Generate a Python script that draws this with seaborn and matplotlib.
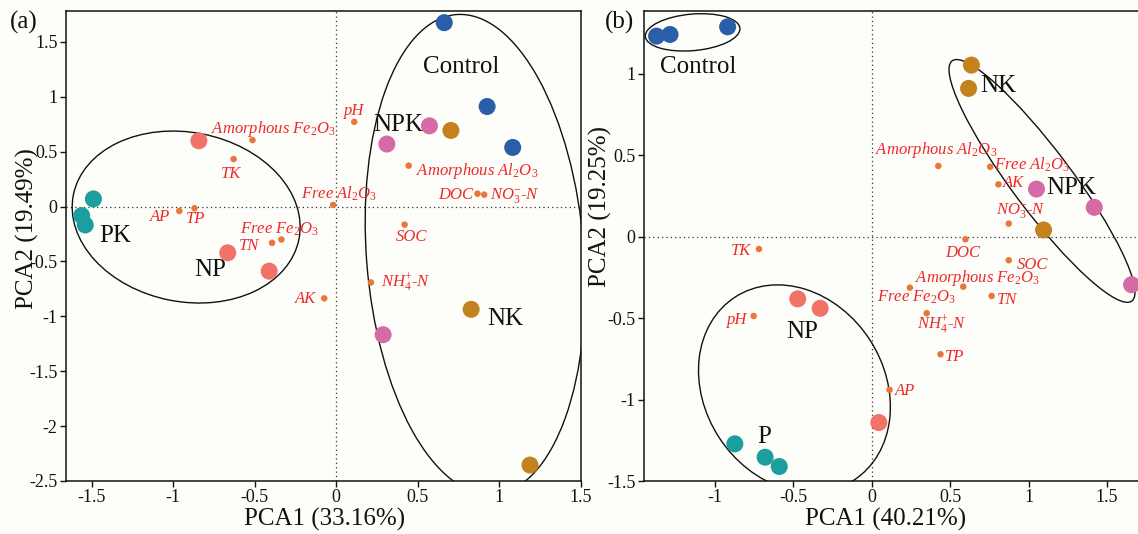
import numpy as np
import pandas as pd
import matplotlib
matplotlib.use("Agg")
import matplotlib.pyplot as plt
import seaborn as sns
from matplotlib.patches import Ellipse
from matplotlib.transforms import Affine2D
from matplotlib.ticker import FixedLocator, FuncFormatter

# ---------------- data: panel (a) ----------------
groups_a = ["Control"] * 3 + ["NPK"] * 3 + ["NK"] * 3 + ["NP"] * 3 + ["PK"] * 3
pc1_a = [0.663, 0.926, 1.083, 0.572, 0.311, 0.288, 0.704, 0.828, 1.189,
         -0.842, -0.665, -0.411, -1.489, -1.561, -1.539]
pc2_a = [1.676, 0.912, 0.539, 0.736, 0.570, -1.167, 0.694, -0.936, -2.355,
         0.600, -0.421, -0.588, 0.070, -0.082, -0.167]

vars_a = ["pH", "Amorphous Fe2O3", "TK", "Free Al2O3", "Amorphous Al2O3", "DOC",
          "NO3-N", "AP", "TP", "Free Fe2O3", "TN", "SOC", "NH4-N", "AK"]
v1_a = [0.111, -0.513, -0.629, -0.018, 0.445, 0.867, 0.908, -0.962, -0.869,
        -0.336, -0.393, 0.420, 0.213, -0.073]
v2_a = [0.773, 0.606, 0.433, 0.015, 0.373, 0.118, 0.109, -0.039, -0.015,
        -0.300, -0.330, -0.164, -0.691, -0.836]

# ---------------- data: panel (b) ----------------
groups_b = ["Control"] * 3 + ["NK"] * 3 + ["NPK"] * 3 + ["NP"] * 3 + ["P"] * 3
pc1_b = [-1.372, -1.286, -0.919, 0.635, 0.617, 1.095, 1.050, 1.418, 1.656,
         -0.472, -0.329, 0.045, -0.873, -0.680, -0.590]
pc2_b = [1.231, 1.241, 1.288, 1.053, 0.910, 0.041, 0.292, 0.180, -0.295,
         -0.382, -0.440, -1.141, -1.272, -1.354, -1.411]

vars_b = ["Amorphous Al2O3", "Free Al2O3", "AK", "NO3-N", "DOC", "TK", "SOC",
          "Amorphous Fe2O3", "Free Fe2O3", "TN", "NH4-N", "pH", "TP", "AP"]
v1_b = [0.424, 0.755, 0.807, 0.873, 0.597, -0.719, 0.873, 0.583, 0.243,
        0.764, 0.350, -0.753, 0.438, 0.113]
v2_b = [0.434, 0.429, 0.321, 0.080, -0.016, -0.076, -0.145, -0.307, -0.313,
        -0.364, -0.470, -0.487, -0.722, -0.940]

xlabel_a, ylabel_a = "PCA1 (33.16%)", "PCA2 (19.49%)"
xlabel_b, ylabel_b = "PCA1 (40.21%)", "PCA2 (19.25%)"

# ---------------- styles ----------------
palette = {"Control": "#2b5ea8", "NPK": "#d66aa6", "NK": "#c4821e",
           "NP": "#f07268", "PK": "#1a9e9e", "P": "#1a9e9e"}
dot_color = "#e8783a"
lab_color = "#ee2a2a"
bg = "#fdfdf9"

pretty = {
    "Amorphous Fe2O3": r"Amorphous Fe$_2$O$_3$",
    "Amorphous Al2O3": r"Amorphous Al$_2$O$_3$",
    "Free Al2O3": r"Free Al$_2$O$_3$",
    "Free Fe2O3": r"Free Fe$_2$O$_3$",
    "NO3-N": r"NO$_3^{-}$-N",
    "NH4-N": r"NH$_4^{+}$-N",
}

# label placement (offset points, ha)
lab_a = {"pH": (0, 8, "center"), "Amorphous Fe2O3": (-30, 8, "left"),
         "TK": (-1.5, -10.5, "center"), "Free Al2O3": (4, 8, "center"),
         "Amorphous Al2O3": (5.5, -3.6, "left"), "DOC": (-3, -1, "right"),
         "NO3-N": (4.5, -0.5, "left"), "AP": (-6.5, -4.3, "right"),
         "TP": (1, -7.5, "center"), "Free Fe2O3": (-1, 7.5, "center"),
         "TN": (-9, -2.4, "right"), "SOC": (5, -8.8, "center"),
         "NH4-N": (7.5, 0, "left"), "AK": (-5.5, -0.7, "right")}
lab_b = {"Amorphous Al2O3": (-1.8, 11.5, "center"), "Free Al2O3": (3, 1.2, "left"),
         "AK": (3, 1.2, "left"), "NO3-N": (9, 9.6, "center"),
         "DOC": (-2, -10, "center"), "TK": (-5.5, -1.2, "right"),
         "SOC": (5.5, -3.1, "left"), "Amorphous Fe2O3": (10, 6, "center"),
         "Free Fe2O3": (4.8, -7, "center"), "TN": (3.6, -2.9, "left"),
         "NH4-N": (11, -8.4, "center"), "pH": (-4.6, -2.9, "right"),
         "TP": (3, -2.2, "left"), "AP": (3.8, -0.7, "left")}

grp_pos_a = {"Control": (0.765, 1.276), "NPK": (0.379, 0.745), "PK": (-1.357, -0.27),
             "NP": (-0.77, -0.573), "NK": (1.037, -1.027)}
grp_pos_b = {"Control": (-1.105, 1.043), "NK": (0.805, 0.924), "NPK": (1.27, 0.297),
             "NP": (-0.442, -0.583), "P": (-0.685, -1.227)}

# ellipses: centre, width, height (x-data units), visual angle
ell_a = [((-0.92, -0.095), 1.410, 1.039, -11), ((0.853, -0.436), 1.334, 2.952, 4.5)]
ell_b = [((-1.142, 1.254), 0.605, 0.233, 5), ((1.085, 0.342), 1.912, 0.382, -53.2),
         ((-0.493, -0.933), 1.391, 1.145, 123)]

sns.set_theme(style="ticks")
plt.rcParams["font.family"] = ["Liberation Serif", "DejaVu Serif"]
plt.rcParams["mathtext.fontset"] = "custom"
plt.rcParams["mathtext.rm"] = "Liberation Serif"
plt.rcParams["mathtext.it"] = "Liberation Serif:italic"
plt.rcParams["mathtext.default"] = "it"

W, H = 11.38, 5.34
fig = plt.figure(figsize=(W, H), dpi=100, facecolor=bg)
axA = fig.add_axes([66 / 1138, 53 / 534, (580.7 - 66) / 1138, 470.3 / 534])
axB = fig.add_axes([644 / 1138, 53 / 534, (1138 - 644) / 1138, 470.3 / 534])

fmt = FuncFormatter(lambda v, p: f"{v:g}")


def panel(ax, groups, x, y, vnames, vx, vy, labpos, gpos, ells, xlim, ylim,
          xt, yt, xl, yl, ylc, xlc, right_spine=True):
    ax.set_facecolor(bg)
    ax.set_xlim(*xlim)
    ax.set_ylim(*ylim)
    ax.axhline(0, ls=(0, (1, 2.5)), color="#333333", lw=0.9, zorder=1)
    ax.axvline(0, ls=(0, (1, 2.5)), color="#333333", lw=0.9, zorder=1)
    df = pd.DataFrame({"PC1": x, "PC2": y, "group": groups})
    sns.scatterplot(data=df, x="PC1", y="PC2", hue="group", palette=palette,
                    s=150, edgecolor="none", legend=False, ax=ax, zorder=3)
    dv = pd.DataFrame({"x": vx, "y": vy, "var": vnames})
    sns.scatterplot(data=dv, x="x", y="y", color=dot_color, s=22,
                    edgecolor="none", legend=False, ax=ax, zorder=4)
    for n, a, b in zip(vnames, vx, vy):
        dx, dy, ha = labpos[n]
        ax.annotate(pretty.get(n, n), (a, b), xytext=(dx, dy),
                    textcoords="offset points", ha=ha, va="center",
                    fontsize=12, color=lab_color, style="italic", zorder=5)
    for g, (a, b) in gpos.items():
        ax.text(a, b, g, ha="center", va="center", fontsize=18,
                color="#111111", zorder=5)
    # ellipses
    pos = ax.get_position()
    sx = pos.width * W * 100 / (xlim[1] - xlim[0])
    sy = pos.height * H * 100 / (ylim[1] - ylim[0])
    for (cx, cy), w, h, ang in ells:
        e = Ellipse((0, 0), w, h, angle=ang, fill=False, ec="#111111", lw=1.0,
                    zorder=2)
        e.set_transform(Affine2D().scale(1, sx / sy).translate(cx, cy) + ax.transData)
        e.set_clip_on(True)
        ax.add_patch(e)
    ax.xaxis.set_major_locator(FixedLocator(xt))
    ax.yaxis.set_major_locator(FixedLocator(yt))
    ax.xaxis.set_major_formatter(fmt)
    ax.yaxis.set_major_formatter(fmt)
    ax.tick_params(direction="out", length=4, width=1, labelsize=13,
                   colors="#111111", pad=2)
    for s in ax.spines.values():
        s.set_color("#111111")
        s.set_linewidth(1.1)
    ax.spines["right"].set_visible(right_spine)
    ax.set_xlabel(xl, fontsize=18, color="#111111")
    ax.set_ylabel(yl, fontsize=18, color="#111111")
    ax.yaxis.set_label_coords(*ylc)
    ax.xaxis.set_label_coords(*xlc)


panel(axA, groups_a, pc1_a, pc2_a, vars_a, v1_a, v2_a, lab_a, grp_pos_a, ell_a,
      (-1.657, 1.5), (-2.5, 1.785), [-1.5, -1, -0.5, 0, 0.5, 1, 1.5],
      [-2.5, -2, -1.5, -1, -0.5, 0, 0.5, 1, 1.5], xlabel_a, ylabel_a,
      (-0.052, 0.536), (0.503, -0.057))
panel(axB, groups_b, pc1_b, pc2_b, vars_b, v1_b, v2_b, lab_b, grp_pos_b, ell_b,
      (-1.452, 1.697), (-1.5, 1.387), [-1, -0.5, 0, 0.5, 1, 1.5],
      [-1.5, -1, -0.5, 0, 0.5, 1], xlabel_b, ylabel_b,
      (-0.065, 0.583), (0.488, -0.057), right_spine=False)

fig.text(24 / 1138, 1 - 22 / 534, "(a)", fontsize=18, ha="center", va="center",
         color="#111111")
fig.text(620 / 1138, 1 - 22 / 534, "(b)", fontsize=18, ha="center", va="center",
         color="#111111")

fig.savefig("out.png", dpi=100, facecolor=bg)
